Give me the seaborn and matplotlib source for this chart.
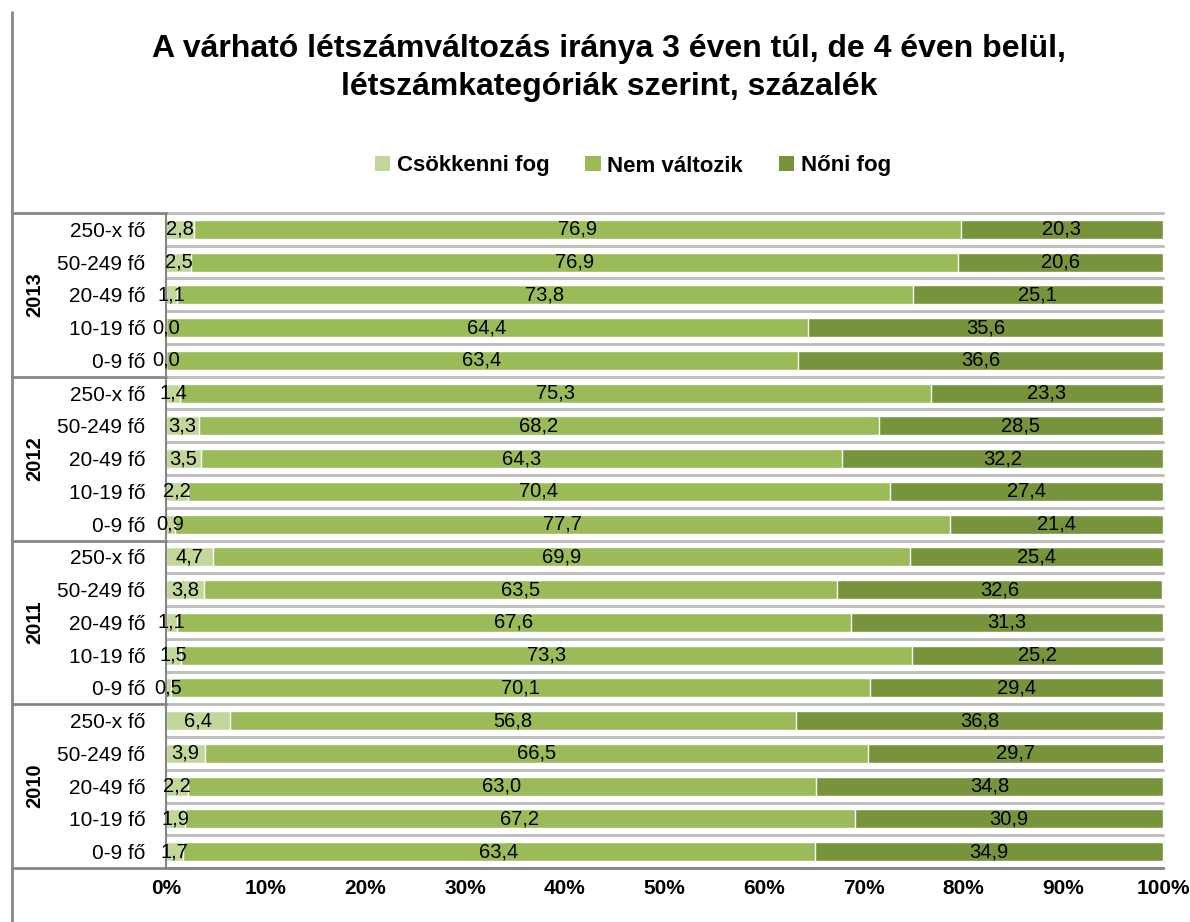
import numpy as np
import pandas as pd
import matplotlib
matplotlib.use("Agg")
import matplotlib.pyplot as plt
import seaborn as sns
from matplotlib.lines import Line2D
from matplotlib.patches import Patch
from matplotlib.transforms import blended_transform_factory

# ----------------------
# DATA (top to bottom)
# ----------------------
years = ["2013", "2012", "2011", "2010"]
sizes = ["250-x fő", "50-249 fő", "20-49 fő", "10-19 fő", "0-9 fő"]
series = ["Csökkenni fog", "Nem változik", "Nőni fog"]

csokken = [2.8, 2.5, 1.1, 0.0, 0.0,
           1.4, 3.3, 3.5, 2.2, 0.9,
           4.7, 3.8, 1.1, 1.5, 0.5,
           6.4, 3.9, 2.2, 1.9, 1.7]
nem_valtozik = [76.9, 76.9, 73.8, 64.4, 63.4,
                75.3, 68.2, 64.3, 70.4, 77.7,
                69.9, 63.5, 67.6, 73.3, 70.1,
                56.8, 66.5, 63.0, 67.2, 63.4]
noni = [20.3, 20.6, 25.1, 35.6, 36.6,
        23.3, 28.5, 32.2, 27.4, 21.4,
        25.4, 32.6, 31.3, 25.2, 29.4,
        36.8, 29.7, 34.8, 30.9, 34.9]

colors = ["#c4d79b", "#9bbb59", "#77933c"]
GRAY = "#868686"

rows = [f"{y}|{s}" for y in years for s in sizes]
df = pd.DataFrame({"row": rows, "c1": csokken, "c2": nem_valtozik, "c3": noni})
df["cum2"] = df["c1"] + df["c2"]
df["cum3"] = df["cum2"] + df["c3"]

# ----------------------
# STYLE
# ----------------------
sns.set_style("white")
plt.rcParams["font.family"] = ["Liberation Sans", "DejaVu Sans"]
plt.rcParams["text.color"] = "black"
plt.rcParams["xtick.labelcolor"] = "black"
plt.rcParams["ytick.labelcolor"] = "black"

fig = plt.figure(figsize=(11.9, 9.22), dpi=100)
W, H = 1190, 922
ax = fig.add_axes([166 / W, 1 - 868 / H, (1163 - 166) / W, (868 - 213) / H])

# ----------------------
# STACKED BARS (draw totals back to front)
# ----------------------
bw = 0.58
for col, c in zip(["cum3", "cum2", "c1"], colors[::-1]):
    sns.barplot(data=df, x=col, y="row", order=rows, orient="h", color=c,
                saturation=1, width=bw, errorbar=None, ax=ax, zorder=2)

# value labels
for i, r in df.iterrows():
    starts = [0, r["c1"], r["cum2"]]
    vals = [r["c1"], r["c2"], r["c3"]]
    for s, v in zip(starts, vals):
        ax.text(s + v / 2, i, f"{v:.1f}".replace(".", ","), ha="center",
                va="center", fontsize=14.5, color="black", zorder=3)

# gridlines between rows
for b in np.arange(-0.5, len(rows), 1):
    ax.axhline(b, color="#c0c0c0", lw=2.2, zorder=0, clip_on=False)

ax.set_xlim(0, 100)
ax.set_ylim(len(rows) - 0.5, -0.5)
ax.set_xlabel("")
ax.set_ylabel("")
ax.set_xticks(np.arange(0, 101, 10))
ax.set_xticklabels([f"{v}%" for v in range(0, 101, 10)], fontsize=15,
                   fontweight="bold")
ax.set_yticks(range(len(rows)))
ax.set_yticklabels(sizes * len(years), fontsize=15)
ax.tick_params(axis="y", length=0, pad=15)
ax.tick_params(axis="x", direction="out", length=5, width=2, color=GRAY, pad=3)

for sp in ["top", "right"]:
    ax.spines[sp].set_visible(False)
ax.spines["left"].set_color(GRAY)
ax.spines["left"].set_linewidth(1.5)
ax.spines["bottom"].set_color(GRAY)
ax.spines["bottom"].set_linewidth(2)
ax.spines["bottom"].set_zorder(4)

# group separators + year labels
trans = blended_transform_factory(fig.transFigure, ax.transData)
for b in [-0.5, 4.5, 9.5, 14.5, 19.5]:
    ax.plot([12 / W, 166 / W], [b, b], color=GRAY, lw=2, transform=trans,
            clip_on=False)
for k, y in enumerate(years):
    ax.text(35 / W, k * 5 + 2, y, transform=trans, rotation=90, ha="center",
            va="center", fontsize=14.5, fontweight="bold")

fig.add_artist(Line2D([12 / W, 12 / W], [0, 1 - 12 / H], color=GRAY, lw=2))

# ----------------------
# TITLE + LEGEND
# ----------------------
fig.text(609 / W, 1 - 68 / H,
         "A várható létszámváltozás iránya 3 éven túl, de 4 éven belül,\n"
         "létszámkategóriák szerint, százalék",
         ha="center", va="center", fontsize=23, fontweight="bold",
         linespacing=1.32, color="black")

handles = [Patch(facecolor=c, edgecolor="none") for c in colors]
fig.legend(handles, series, loc="center", bbox_to_anchor=(633 / W, 1 - 166 / H),
           ncol=3, frameon=False, prop={"weight": "bold", "size": 16},
           handlelength=0.7, handleheight=0.7, handletextpad=0.3,
           columnspacing=1.6)

fig.savefig("out.png", dpi=100)
